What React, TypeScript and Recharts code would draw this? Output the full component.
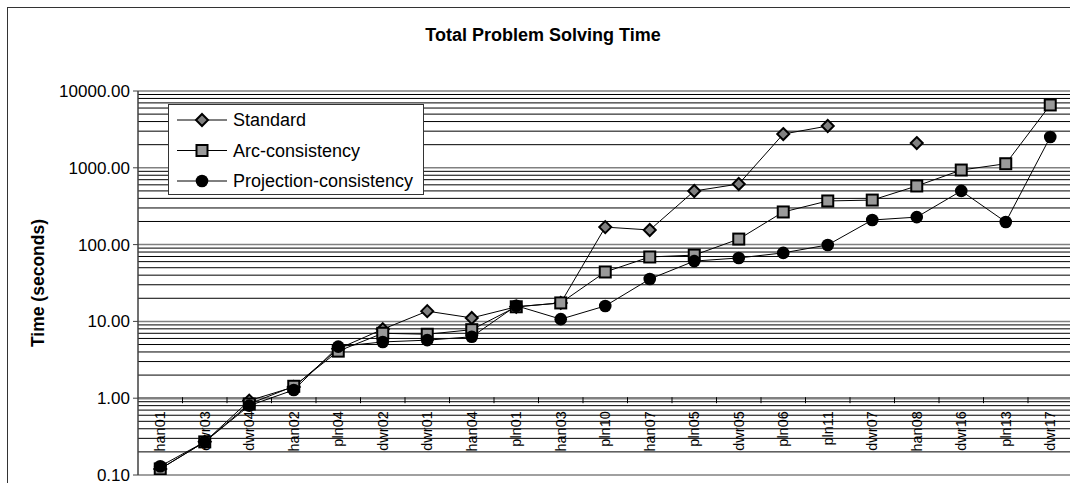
import React from "react";
import { CartesianGrid, Line, LineChart, XAxis, YAxis } from "recharts";

const CATEGORIES = [
  "han01", "dwr03", "dwr04", "han02", "pln04", "dwr02", "dwr01", "han04",
  "pln01", "han03", "pln10", "han07", "pln05", "dwr05", "pln06", "pln11",
  "dwr07", "han08", "dwr16", "pln13", "dwr17",
];

const STANDARD = [
  0.12, 0.27, 0.93, 1.4, 4.4, 7.9, 13.6, 11.1, 15.5, 17.4, 169, 155, 499, 615,
  2750, 3500, null, 2100, null, null, null,
];
const ARC_CONSISTENCY = [
  0.12, 0.27, 0.84, 1.43, 4.1, 7.0, 6.8, 7.8, 15.5, 17.4, 44, 69, 73, 118,
  266, 370, 380, 580, 935, 1130, 6580,
];
const PROJECTION_CONSISTENCY = [
  0.13, 0.27, 0.8, 1.28, 4.7, 5.4, 5.7, 6.3, 16.0, 10.7, 15.9, 35.6, 61, 67,
  78, 99, 209, 228, 500, 197, 2520,
];

const SERIES_NAMES = ["Standard", "Arc-consistency", "Projection-consistency"];
const Y_TICKS = [0.1, 1, 10, 100, 1000, 10000];
const MULTIPLIERS = [2, 3, 4, 5, 6, 7, 8, 9];

// minor log gridlines, 2..9 times each decade
const MINOR_GRID = Y_TICKS.slice(0, -1).flatMap((d) =>
  MULTIPLIERS.map((m) => Number((d * m).toPrecision(3))),
);

const chartData = CATEGORIES.map((name, i) => ({
  name,
  standard: STANDARD[i],
  arc: ARC_CONSISTENCY[i],
  projection: PROJECTION_CONSISTENCY[i],
}));

const FONT = "Arial, 'Liberation Sans', sans-serif";
const CHART_W = 1080;
const CHART_H = 498;
const MARGIN = { top: 91, right: 7.5, bottom: 0, left: 0 };
const Y_AXIS_W = 138;
const X_AXIS_H = 23;
const PLOT_H = CHART_H - MARGIN.top - MARGIN.bottom - X_AXIS_H;
const PLOT_W = CHART_W - Y_AXIS_W - MARGIN.right;
// category axis crosses the log axis at 1.0, one decade above the bottom (0.1)
const AXIS_LIFT = PLOT_H / 5;
const BAND = PLOT_W / CATEGORIES.length;

// fallback log mapping if the grid generator gets no scale
const logY = (v: number) =>
  MARGIN.top + PLOT_H * (1 - (Math.log10(v) + 1) / 5);

const gridGenerator = (values: number[]) => (arg: any) => {
  const scale = arg?.yAxis?.scale;
  return values.map((v) => (typeof scale === "function" ? scale(v) : logY(v)));
};

const diamond = (cx: number, cy: number, key?: any) => (
  <path
    key={key}
    d={`M${cx},${cy - 6}L${cx + 6},${cy}L${cx},${cy + 6}L${cx - 6},${cy}Z`}
    fill="#808080"
    stroke="#000"
    strokeWidth={2}
  />
);

const square = (cx: number, cy: number, key?: any) => (
  <rect
    key={key}
    x={cx - 5.5}
    y={cy - 5.5}
    width={11}
    height={11}
    fill="#999999"
    stroke="#000"
    strokeWidth={2}
  />
);

const circle = (cx: number, cy: number, key?: any) => (
  <circle key={key} cx={cx} cy={cy} r={6.3} fill="#000" />
);

const makeDot =
  (draw: (cx: number, cy: number, key?: any) => React.ReactElement) =>
  (p: any) => {
    if (p.cx == null || p.cy == null || p.value == null) {
      return <g key={`e-${p.index}`} />;
    }
    return draw(p.cx, p.cy, `d-${p.index}`);
  };

const CategoryTick = (props: any) => {
  const { x, y, payload } = props;
  const ay = y - AXIS_LIFT;
  return (
    <g>
      <line
        x1={x + BAND / 2}
        x2={x + BAND / 2}
        y1={ay - 1}
        y2={ay + 5}
        stroke="#000"
      />
      <text
        transform={`translate(${x},${ay + 13}) rotate(-90)`}
        textAnchor="end"
        dominantBaseline="central"
        fontSize={14.5}
        fontFamily={FONT}
        fill="#000"
      >
        {payload.value}
      </text>
    </g>
  );
};

const renderYTitle = (props: any) => {
  const vb = props.viewBox || {};
  const cy = (vb.y ?? MARGIN.top) + (vb.height ?? PLOT_H) / 2;
  return (
    <text
      transform={`translate(38,${cy}) rotate(-90)`}
      textAnchor="middle"
      dominantBaseline="central"
      fontSize={17.5}
      fontWeight="bold"
      fontFamily={FONT}
      fill="#000"
    >
      Time (seconds)
    </text>
  );
};

const MARKERS = [diamond, square, circle];

function LegendBox() {
  return (
    <div
      style={{
        position: "absolute",
        left: 168,
        top: 104,
        width: 256,
        height: 91,
        border: "1px solid #333",
        background: "#fff",
        boxSizing: "border-box",
      }}
    >
      <svg width={254} height={89}>
        {SERIES_NAMES.map((name, i) => {
          const y = 15 + i * 30.5;
          return (
            <g key={name}>
              <line x1={8} x2={58} y1={y} y2={y} stroke="#000" />
              {MARKERS[i](33, y)}
              <text
                x={64}
                y={y}
                dominantBaseline="central"
                fontSize={18}
                fontFamily={FONT}
                fill="#000"
              >
                {name}
              </text>
            </g>
          );
        })}
      </svg>
    </div>
  );
}

export default function App() {
  return (
    <div
      style={{
        position: "absolute",
        left: 0,
        top: 0,
        width: 1070,
        height: 483,
        overflow: "hidden",
        background: "#fff",
        fontFamily: FONT,
      }}
    >
      <div
        style={{
          position: "absolute",
          left: 7,
          top: 7,
          width: 1200,
          height: 600,
          border: "1px solid #333",
        }}
      />
      <div
        style={{
          position: "absolute",
          left: 0,
          top: 25,
          width: 1086,
          textAlign: "center",
          fontSize: 18,
          lineHeight: "20px",
          fontWeight: "bold",
          color: "#000",
        }}
      >
        Total Problem Solving Time
      </div>

      <div style={{ position: "absolute", left: 0, top: 0 }}>
        <LineChart
          width={CHART_W}
          height={CHART_H}
          data={chartData}
          margin={MARGIN}
        >
          <CartesianGrid
            vertical={false}
            horizontalCoordinatesGenerator={gridGenerator(MINOR_GRID)}
            stroke="#000"
            strokeWidth={1}
          />
          <CartesianGrid
            vertical={false}
            horizontalCoordinatesGenerator={gridGenerator(Y_TICKS)}
            stroke="#808080"
            strokeWidth={1.5}
          />
          <CartesianGrid
            vertical={false}
            horizontalCoordinatesGenerator={gridGenerator([1])}
            stroke="#808080"
            strokeWidth={2.5}
          />

          <XAxis
            dataKey="name"
            height={X_AXIS_H}
            interval={0}
            padding={{ left: BAND / 2, right: BAND / 2 }}
            axisLine={false}
            tickLine={false}
            tickSize={0}
            tickMargin={0}
            tick={CategoryTick}
          />

          <YAxis
            scale="log"
            type="number"
            domain={[0.1, 10000]}
            allowDataOverflow
            ticks={Y_TICKS}
            interval={0}
            width={Y_AXIS_W}
            tickFormatter={(v) => Number(v).toFixed(2)}
            axisLine={{ stroke: "#404040", strokeWidth: 1.5 }}
            tickLine={{ stroke: "#404040" }}
            tickSize={5}
            tickMargin={3}
            tick={{ fontSize: 17, fill: "#000", fontFamily: FONT }}
            label={renderYTitle}
          />

          <Line
            dataKey="standard"
            name={SERIES_NAMES[0]}
            type="linear"
            stroke="#000"
            strokeWidth={1}
            connectNulls={false}
            dot={makeDot(diamond)}
            activeDot={false}
            isAnimationActive={false}
          />
          <Line
            dataKey="arc"
            name={SERIES_NAMES[1]}
            type="linear"
            stroke="#000"
            strokeWidth={1}
            dot={makeDot(square)}
            activeDot={false}
            isAnimationActive={false}
          />
          <Line
            dataKey="projection"
            name={SERIES_NAMES[2]}
            type="linear"
            stroke="#000"
            strokeWidth={1}
            dot={makeDot(circle)}
            activeDot={false}
            isAnimationActive={false}
          />
        </LineChart>
      </div>

      <LegendBox />
    </div>
  );
}
